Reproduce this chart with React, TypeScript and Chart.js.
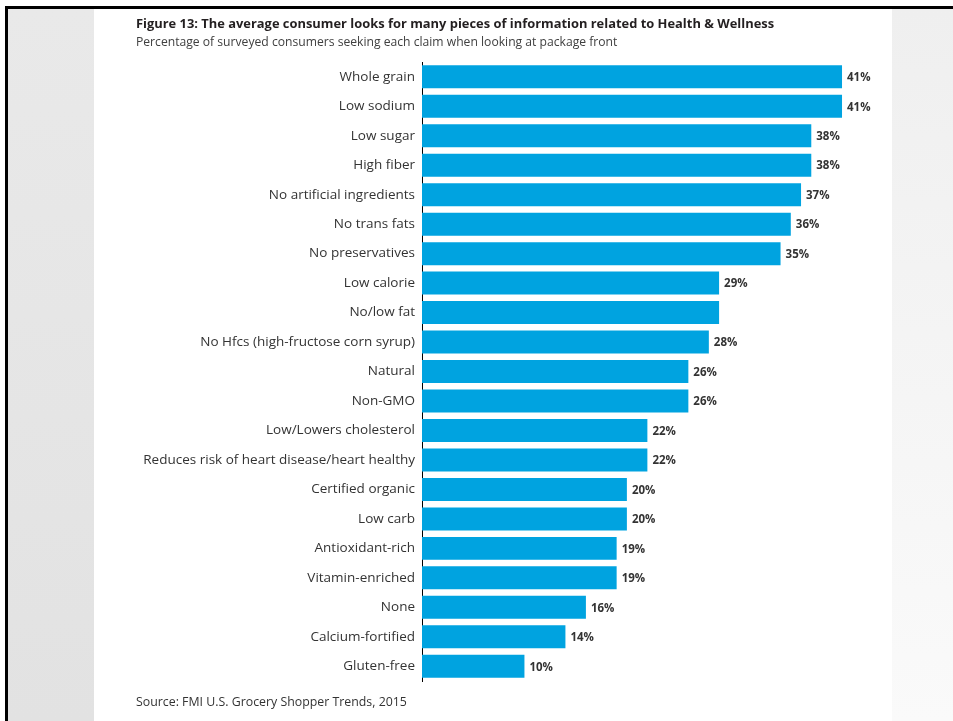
import React, { useEffect, useRef } from "react";
import { Chart, registerables } from "chart.js";

Chart.register(...registerables);

const categories: string[] = [
  "Whole grain",
  "Low sodium",
  "Low sugar",
  "High fiber",
  "No artificial ingredients",
  "No trans fats",
  "No preservatives",
  "Low calorie",
  "No/low fat",
  "No Hfcs (high-fructose corn syrup)",
  "Natural",
  "Non-GMO",
  "Low/Lowers cholesterol",
  "Reduces risk of heart disease/heart healthy",
  "Certified organic",
  "Low carb",
  "Antioxidant-rich",
  "Vitamin-enriched",
  "None",
  "Calcium-fortified",
  "Gluten-free",
];

const values: number[] = [41, 41, 38, 38, 37, 36, 35, 29, 29, 28, 26, 26, 22, 22, 20, 20, 19, 19, 16, 14, 10];

const valueLabels: string[] = [
  "41%", "41%", "38%", "38%", "37%", "36%", "35%", "29%", "", "28%", "26%",
  "26%", "22%", "22%", "20%", "20%", "19%", "19%", "16%", "14%", "10%",
];

const titleText = "Figure 13: The average consumer looks for many pieces of information related to Health & Wellness";
const subtitleText = "Percentage of surveyed consumers seeking each claim when looking at package front";
const sourceText = "Source: FMI U.S. Grocery Shopper Trends, 2015";

const FONT = "'Open Sans', 'Noto Sans', sans-serif";

export default function App() {
  const canvasRef = useRef<HTMLCanvasElement | null>(null);

  useEffect(() => {
    const canvas = canvasRef.current;
    if (!canvas) return;

    const valueLabelPlugin = {
      id: "valueLabels",
      afterDatasetsDraw(chart: any) {
        const ctx = chart.ctx;
        const meta = chart.getDatasetMeta(0);
        ctx.save();
        ctx.font = `bold 11.5px ${FONT}`;
        ctx.fillStyle = "#333333";
        ctx.textAlign = "left";
        ctx.textBaseline = "middle";
        meta.data.forEach((bar: any, i: number) => {
          const t = valueLabels[i];
          if (t) ctx.fillText(t, bar.x + 5, bar.y + 1);
        });
        ctx.restore();
      },
    };

    const sourcePlugin = {
      id: "sourceNote",
      afterDraw(chart: any) {
        const ctx = chart.ctx;
        ctx.save();
        ctx.font = `12.35px ${FONT}`;
        ctx.fillStyle = "#333333";
        ctx.textAlign = "left";
        ctx.textBaseline = "middle";
        ctx.fillText(sourceText, 136, 702);
        ctx.restore();
      },
    };

    const chart = new Chart(canvas, {
      type: "bar",
      data: {
        labels: categories,
        datasets: [
          {
            data: values,
            backgroundColor: "#00a3e0",
            borderWidth: 0,
            barPercentage: 1,
            categoryPercentage: 0.78,
          },
        ],
      },
      options: {
        indexAxis: "y",
        responsive: false,
        animation: false,
        layout: { padding: { left: 136, right: 70, top: 0, bottom: 40 } },
        plugins: {
          legend: { display: false },
          tooltip: { enabled: false },
          title: {
            display: true,
            text: titleText,
            align: "start",
            color: "#231f20",
            font: { family: FONT, size: 12.9, weight: "bold", lineHeight: 1.2 },
            padding: { top: 17, bottom: 0 },
          },
          subtitle: {
            display: true,
            text: subtitleText,
            align: "start",
            color: "#404040",
            font: { family: FONT, size: 12.15, lineHeight: 1.2 },
            padding: { top: 3, bottom: 12 },
          },
        },
        scales: {
          x: {
            display: false,
            min: 0,
            max: 45,
          },
          y: {
            grid: { display: false, drawTicks: false },
            border: { display: true, color: "#000000", width: 1 },
            ticks: {
              color: "#333333",
              padding: 7,
              font: { family: FONT, size: 13.5 },
            },
            afterFit(scale: any) {
              scale.width = 286;
            },
          },
        },
      },
      plugins: [valueLabelPlugin, sourcePlugin],
    });

    return () => chart.destroy();
  }, []);

  return (
    <div style={{ position: "absolute", left: 0, top: 0, width: 953, height: 721, background: "#ffffff", overflow: "hidden" }}>
      <div style={{ position: "absolute", left: 5, top: 6, width: 948, height: 3, background: "#000" }} />
      <div style={{ position: "absolute", left: 5, top: 6, width: 3, height: 715, background: "#000" }} />
      <div style={{ position: "absolute", left: 8, top: 9, width: 86, height: 712, background: "linear-gradient(180deg, #e9e9e9 0%, #e2e2e2 100%)" }} />
      <div style={{ position: "absolute", left: 892, top: 9, width: 61, height: 712, background: "linear-gradient(180deg, #efefef 0%, #fafafa 100%)" }} />
      <canvas ref={canvasRef} width={953} height={721} style={{ position: "absolute", left: 0, top: 0, display: "block" }} />
    </div>
  );
}
